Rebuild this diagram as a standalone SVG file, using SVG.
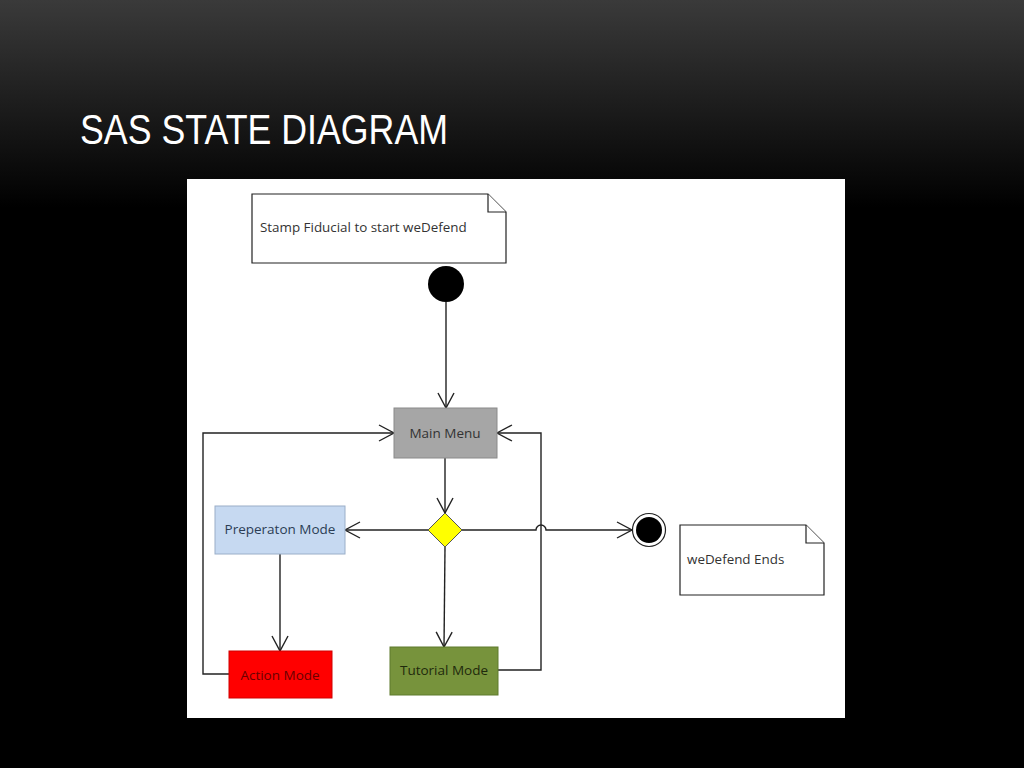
<svg xmlns="http://www.w3.org/2000/svg" width="1024" height="768" viewBox="0 0 1024 768">
<defs>
<linearGradient id="bg" x1="0" y1="0" x2="0" y2="1" gradientUnits="objectBoundingBox">
<stop offset="0" stop-color="#3a3a3a"/>
<stop offset="0.27" stop-color="#000000"/>
<stop offset="1" stop-color="#000000"/>
</linearGradient>
<marker id="open" viewBox="0 0 20 20" refX="16" refY="10" markerWidth="20" markerHeight="20" markerUnits="userSpaceOnUse" orient="auto">
<path d="M1,2 L16,10 L1,18" fill="none" stroke="#222" stroke-width="1.4"/>
</marker>
</defs>
<style>
.title{font-family:"Liberation Sans",Arial,sans-serif;font-size:43px;fill:#ffffff}
.note{fill:#ffffff;stroke:#222;stroke-width:1.2}
.ntext{font-family:"Open Sans","Noto Sans",sans-serif;font-size:13.4px;fill:#333}
.lbl{font-family:"Open Sans","Noto Sans",sans-serif;font-size:13.5px;text-anchor:middle;dominant-baseline:central}
.edge{fill:none;stroke:#222;stroke-width:1.4}
</style>
<rect x="0" y="0" width="1024" height="768" fill="url(#bg)"/>
<text class="title" x="80" y="144" textLength="368" lengthAdjust="spacingAndGlyphs">SAS STATE DIAGRAM</text>
<rect x="187" y="179" width="658" height="539" fill="#ffffff"/>

<g id="connectors">
<path class="edge" d="M446,302 L446,408" marker-end="url(#open)"/>
<path class="edge" d="M445,458 L445,513" marker-end="url(#open)"/>
<path class="edge" d="M428,530 L345,530" marker-end="url(#open)"/>
<path class="edge" d="M280,554 L280,651" marker-end="url(#open)"/>
<path class="edge" d="M445,547 L444,647" marker-end="url(#open)"/>
<path class="edge" d="M229,674 L203,674 L203,433 L394,433" marker-end="url(#open)"/>
<path class="edge" d="M498,670 L541,670 L541,433 L497,433" marker-end="url(#open)"/>
<path class="edge" d="M462,530 L536,530 A5,5 0 0 1 546,530 L632,530" marker-end="url(#open)"/>
</g>

<g id="note-start">
<path class="note" d="M252,194 L488,194 L506,212 L506,263 L252,263 Z"/>
<path class="note" d="M488,194 L488,212 L506,212" fill="none"/>
<text class="ntext" x="260" y="232">Stamp Fiducial to start weDefend</text>
</g>

<g id="start">
<circle cx="446" cy="284" r="18" fill="#000"/>
</g>

<g id="main-menu">
<rect x="394" y="408" width="103" height="50" fill="#a6a6a6" stroke="#8a8a8a" stroke-width="1"/>
<text class="lbl" x="445" y="433" fill="#333">Main Menu</text>
</g>

<g id="decision">
<path d="M445,513 L462,530 L445,547 L428,530 Z" fill="#ffff00" stroke="#555" stroke-width="1"/>
</g>

<g id="preparation-mode">
<rect x="215" y="506" width="130" height="48" fill="#c6d9f1" stroke="#9aaec8" stroke-width="1"/>
<text class="lbl" x="280" y="529" fill="#2b3d55">Preperaton Mode</text>
</g>

<g id="action-mode">
<rect x="229" y="651" width="103" height="47" fill="#ff0000" stroke="#d00000" stroke-width="1"/>
<text class="lbl" x="280" y="675" fill="#6a0000">Action Mode</text>
</g>

<g id="tutorial-mode">
<rect x="390" y="647" width="108" height="48" fill="#77933c" stroke="#5f7a2c" stroke-width="1"/>
<text class="lbl" x="444" y="670" fill="#1f2a0c">Tutorial Mode</text>
</g>

<g id="end">
<circle cx="649" cy="530" r="16.5" fill="#fff" stroke="#222" stroke-width="1.2"/>
<circle cx="649" cy="530" r="13" fill="#000"/>
</g>

<g id="note-end">
<path class="note" d="M680,525 L806,525 L824,543 L824,595 L680,595 Z"/>
<path class="note" d="M806,525 L806,543 L824,543" fill="none"/>
<text class="ntext" x="687" y="564">weDefend Ends</text>
</g>
</svg>
